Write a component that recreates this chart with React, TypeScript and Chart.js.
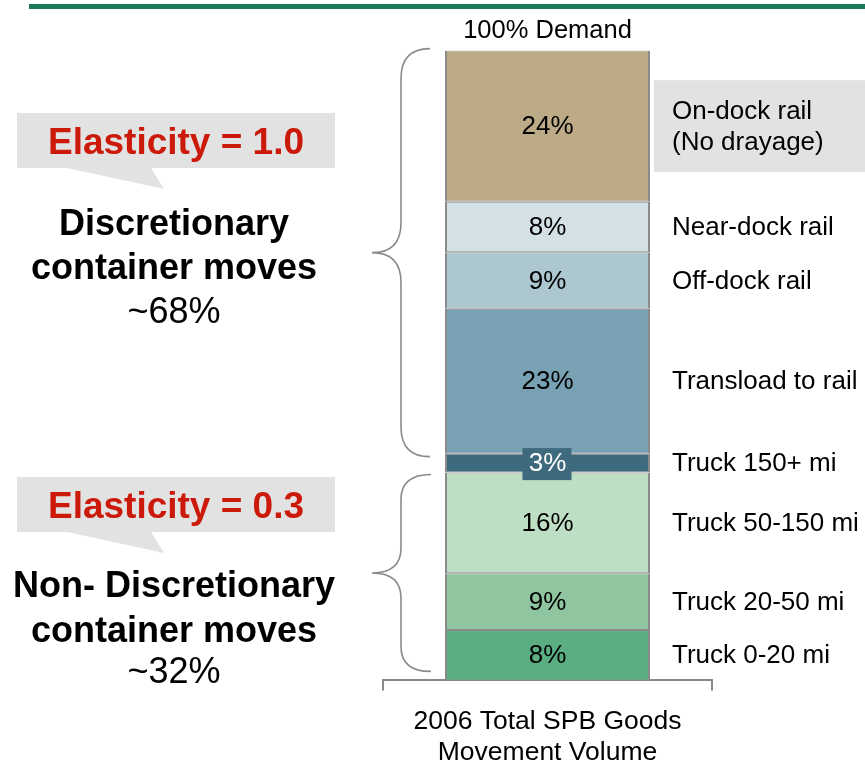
import React, { useEffect, useRef } from 'react';
import { Chart, registerables } from 'chart.js';

Chart.register(...registerables);

const FONT = "'Liberation Sans', Arial, Helvetica, sans-serif";

// ---- data ----
const categories = [['2006 Total SPB Goods', 'Movement Volume']];
const topTitle = '100% Demand';
// stacked from bottom to top
const segmentNames = [
  'Truck 0-20 mi',
  'Truck 20-50 mi',
  'Truck 50-150 mi',
  'Truck 150+ mi',
  'Transload to rail',
  'Off-dock rail',
  'Near-dock rail',
  'On-dock rail',
];
const segmentSideLabels = [
  ['Truck 0-20 mi'],
  ['Truck 20-50 mi'],
  ['Truck 50-150 mi'],
  ['Truck 150+ mi'],
  ['Transload to rail'],
  ['Off-dock rail'],
  ['Near-dock rail'],
  ['On-dock rail', '(No drayage)'],
];
const segmentValues = [8, 9, 16, 3, 23, 9, 8, 24];
const segmentColors = ['#5aae82', '#8fc6a0', '#bfdfc4', '#3e6a7e', '#78a2b3', '#adc7d0', '#d3e0e6', '#bcab86'];
const highlightedSegment = 'On-dock rail';
const boxedValueSegment = 'Truck 150+ mi';

const groupTitles = ['Elasticity = 1.0', 'Elasticity = 0.3'];
const groupNames = [
  ['Discretionary', 'container moves'],
  ['Non- Discretionary', 'container moves'],
];
const groupShares = ['~68%', '~32%'];
// stack value ranges covered by each brace [from, to]
const groupRanges = [
  [36, 100],
  [0, 33],
];

function drawBrace(ctx: CanvasRenderingContext2D, xEnd: number, xSpine: number, xTip: number, top: number, bottom: number, r: number) {
  const mid = (top + bottom) / 2;
  ctx.beginPath();
  ctx.moveTo(xEnd, top);
  ctx.quadraticCurveTo(xSpine, top, xSpine, top + r);
  ctx.lineTo(xSpine, mid - r);
  ctx.quadraticCurveTo(xSpine, mid, xTip, mid);
  ctx.quadraticCurveTo(xSpine, mid, xSpine, mid + r);
  ctx.lineTo(xSpine, bottom - r);
  ctx.quadraticCurveTo(xSpine, bottom, xEnd, bottom);
  ctx.stroke();
}

const decorPlugin = {
  id: 'decor',
  beforeDatasetsDraw(chart: any) {
    const ctx: CanvasRenderingContext2D = chart.ctx;
    const yScale = chart.scales.y;
    ctx.save();
    // top green rule
    ctx.fillStyle = '#1b7a5a';
    ctx.fillRect(29, 4, chart.width - 29, 5);

    // callouts + left text
    const calloutTops = [113, 477];
    const nameBaselines = [
      [235, 279],
      [597, 642],
    ];
    const shareBaselines = [323, 683];
    const cx = 174;
    for (let g = 0; g < 2; g++) {
      const t = calloutTops[g];
      ctx.fillStyle = '#e2e2e2';
      ctx.fillRect(17, t, 318, 55);
      ctx.beginPath();
      ctx.moveTo(67, t + 55);
      ctx.lineTo(151, t + 55);
      ctx.lineTo(164, t + 76);
      ctx.closePath();
      ctx.fill();

      ctx.textAlign = 'center';
      ctx.textBaseline = 'alphabetic';
      ctx.fillStyle = '#cc1a0a';
      ctx.font = `bold 37px ${FONT}`;
      ctx.fillText(groupTitles[g], cx + 2, t + 41);

      ctx.fillStyle = '#000';
      ctx.font = `bold 36px ${FONT}`;
      ctx.fillText(groupNames[g][0], cx, nameBaselines[g][0]);
      ctx.fillText(groupNames[g][1], cx, nameBaselines[g][1]);
      ctx.font = `36px ${FONT}`;
      ctx.fillText(groupShares[g], cx, shareBaselines[g]);
    }

    // braces
    ctx.strokeStyle = '#8a8a8a';
    ctx.lineWidth = 1.6;
    const b1Top = yScale.getPixelForValue(groupRanges[0][1]) - 2;
    const b1Bot = yScale.getPixelForValue(groupRanges[0][0]) + 3;
    drawBrace(ctx, 430, 401, 372, b1Top, b1Bot, 30);
    const b2Top = yScale.getPixelForValue(groupRanges[1][1]) + 2;
    const b2Bot = yScale.getPixelForValue(groupRanges[1][0]) - 9;
    drawBrace(ctx, 431, 401, 372, b2Top, b2Bot, 25);
    ctx.restore();
  },
  afterDatasetsDraw(chart: any) {
    const ctx: CanvasRenderingContext2D = chart.ctx;
    ctx.save();
    chart.data.datasets.forEach((ds: any, i: number) => {
      const el = chart.getDatasetMeta(i).data[0];
      if (!el) return;
      const props = el.getProps(['x', 'y', 'base', 'width'], true);
      const cy = (props.y + props.base) / 2;
      const right = props.x + props.width / 2;

      // value label
      const valueText = `${ds.data[0]}%`;
      ctx.font = `26px ${FONT}`;
      ctx.textAlign = 'center';
      ctx.textBaseline = 'middle';
      if (ds.label === boxedValueSegment) {
        ctx.fillStyle = ds.backgroundColor;
        ctx.fillRect(props.x - 25, cy - 15, 49, 32);
        ctx.fillStyle = '#ffffff';
      } else {
        ctx.fillStyle = '#000';
      }
      ctx.fillText(valueText, props.x, cy + 1);

      // side label
      const lines = segmentSideLabels[i];
      if (ds.label === highlightedSegment) {
        ctx.fillStyle = '#e2e2e2';
        ctx.fillRect(right + 4, cy - 46, chart.width - right - 4, 92);
      }
      ctx.fillStyle = '#000';
      ctx.textAlign = 'left';
      const lh = 31;
      lines.forEach((ln: string, k: number) => {
        ctx.fillText(ln, right + 22, cy + 1 + (k - (lines.length - 1) / 2) * lh);
      });
    });
    ctx.restore();
  },
};

function StackedChart() {
  const canvasRef = useRef<HTMLCanvasElement | null>(null);
  useEffect(() => {
    if (!canvasRef.current) return;
    const chart = new Chart(canvasRef.current, {
      type: 'bar',
      data: {
        labels: categories,
        datasets: segmentNames.map((name, i) => ({
          label: name,
          data: [segmentValues[i]],
          backgroundColor: segmentColors[i],
          borderColor: '#8a8a8a',
          borderWidth: { top: 1, bottom: 1, left: 2, right: 2 },
          borderSkipped: false,
          barPercentage: 0.623,
          categoryPercentage: 1,
        })),
      },
      options: {
        responsive: false,
        animation: false,
        devicePixelRatio: 1,
        layout: { padding: { top: 0, left: 383, right: 153, bottom: -20 } },
        plugins: {
          legend: { display: false },
          tooltip: { enabled: false },
          title: {
            display: true,
            text: topTitle,
            color: '#000',
            font: { family: FONT, size: 25.5, weight: 'normal' },
            padding: { top: 16, bottom: 4 },
          },
        },
        scales: {
          x: {
            stacked: true,
            grid: {
              display: true,
              drawOnChartArea: false,
              drawTicks: true,
              tickLength: 10,
              color: '#8a8a8a',
              lineWidth: 2,
              offset: true,
            },
            border: { display: true, color: '#8a8a8a', width: 2 },
            ticks: {
              color: '#000',
              padding: 15,
              maxRotation: 0,
              font: { family: FONT, size: 26.5 },
            },
          },
          y: {
            stacked: true,
            display: false,
            min: 0,
            max: 100,
          },
        },
      },
      plugins: [decorPlugin],
    });
    return () => chart.destroy();
  }, []);
  return <canvas ref={canvasRef} width={865} height={764} style={{ display: 'block' }} />;
}

export default function App() {
  return (
    <div style={{ position: 'absolute', left: 0, top: 0, width: 865, height: 764, background: '#fff' }}>
      <StackedChart />
    </div>
  );
}
